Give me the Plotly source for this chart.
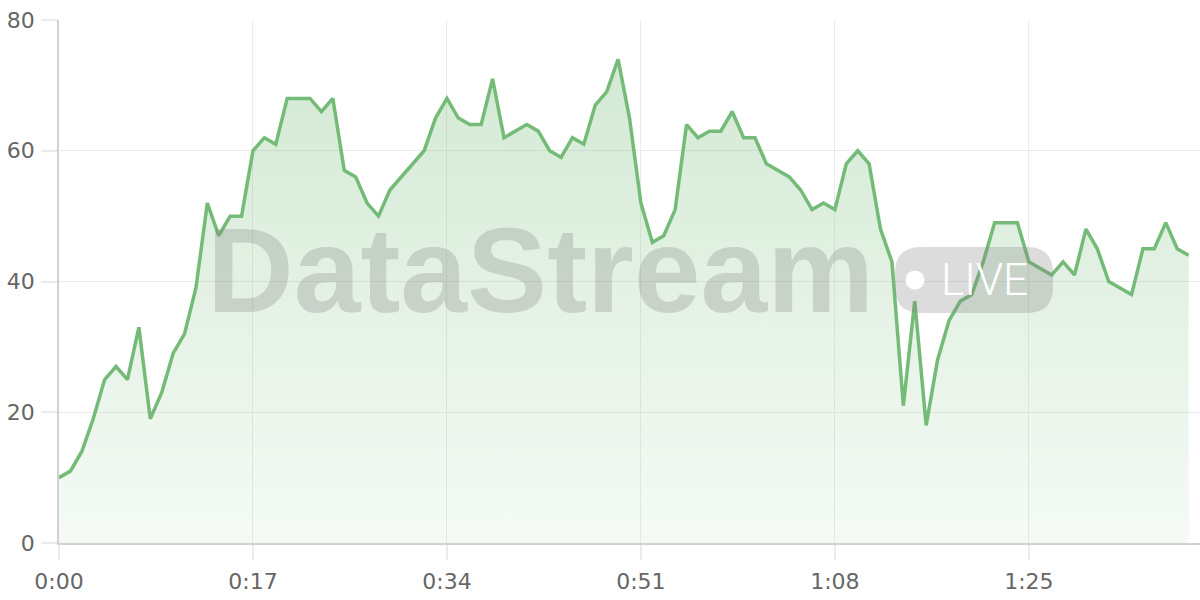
import plotly.graph_objects as go

# one sample per second
seconds = list(range(100))
values = [
    10, 11, 14, 19, 25, 27, 25, 33, 19, 23,
    29, 32, 39, 52, 47, 50, 50, 60, 62, 61,
    68, 68, 68, 66, 68, 57, 56, 52, 50, 54,
    56, 58, 60, 65, 68, 65, 64, 64, 71, 62,
    63, 64, 63, 60, 59, 62, 61, 67, 69, 74,
    65, 52, 46, 47, 51, 64, 62, 63, 63, 66,
    62, 62, 58, 57, 56, 54, 51, 52, 51, 58,
    60, 58, 48, 43, 21, 37, 18, 28, 34, 37,
    38, 43, 49, 49, 49, 43, 42, 41, 43, 41,
    48, 45, 40, 39, 38, 45, 45, 49, 45, 44,
]
x_tickvals = [0, 17, 34, 51, 68, 85]
x_ticktext = ["0:00", "0:17", "0:34", "0:51", "1:08", "1:25"]
y_tickvals = [0, 20, 40, 60, 80]

W, H = 1200, 600
M = dict(l=59, r=0, t=20, b=57)
GREEN = "rgb(117,187,120)"
GRID = "#ebebeb"
AXIS = "#d2d2d2"
WM = "rgba(128,128,128,0.28)"


def px(x, y):
    """pixel position -> paper coords"""
    pw = W - M["l"] - M["r"]
    ph = H - M["t"] - M["b"]
    return (x - M["l"]) / pw, (H - M["b"] - y) / ph


def rounded_rect(x0, y0, x1, y1, r):
    def p(x, y):
        a, b = px(x, y)
        return f"{a:.5f},{b:.5f}"
    return (
        f"M {p(x0 + r, y0)} L {p(x1 - r, y0)} Q {p(x1, y0)} {p(x1, y0 + r)} "
        f"L {p(x1, y1 - r)} Q {p(x1, y1)} {p(x1 - r, y1)} "
        f"L {p(x0 + r, y1)} Q {p(x0, y1)} {p(x0, y1 - r)} "
        f"L {p(x0, y0 + r)} Q {p(x0, y0)} {p(x0 + r, y0)} Z"
    )


fig = go.Figure()
fig.add_trace(go.Scatter(
    x=seconds, y=values, mode="lines",
    line=dict(color=GREEN, width=3.5),
    fill="tozeroy",
    fillgradient=dict(
        type="vertical", start=0, stop=80,
        colorscale=[[0, "rgba(117,187,120,0.07)"], [1, "rgba(117,187,120,0.34)"]],
    ),
    hoverinfo="skip",
))

# watermark
wx, wy = px(540, 270)
fig.add_annotation(
    text="DataStream", x=wx, y=wy, xref="paper", yref="paper",
    xanchor="center", yanchor="middle", showarrow=False,
    font=dict(family="Liberation Sans", size=120, color=WM, weight="bold"),
)
fig.add_shape(
    type="path", xref="paper", yref="paper", layer="above",
    path=rounded_rect(895, 247, 1053, 313, 26),
    fillcolor=WM, line=dict(width=0),
)
cx, cy = px(915, 280)
fig.add_shape(
    type="circle", xref="paper", yref="paper", layer="above",
    xsizemode="pixel", ysizemode="pixel", xanchor=cx, yanchor=cy,
    x0=-9.5, x1=9.5, y0=-9.5, y1=9.5,
    fillcolor="white", line=dict(width=0),
)
lx, ly = px(984, 280)
fig.add_annotation(
    text="LIVE", x=lx, y=ly, xref="paper", yref="paper",
    xanchor="center", yanchor="middle", showarrow=False,
    font=dict(family="Roboto", size=44, color="white", weight=300),
)

fig.update_layout(
    width=W, height=H, margin=M,
    paper_bgcolor="white", plot_bgcolor="white",
    showlegend=False,
    font=dict(family="DejaVu Sans", size=22, color="#666"),
    xaxis=dict(
        range=[0, 100], tickvals=x_tickvals, ticktext=x_ticktext,
        showgrid=True, gridcolor=GRID, zeroline=False,
        showline=True, linecolor=AXIS, linewidth=1.5,
        ticks="outside", ticklen=15, tickcolor=GRID, tickwidth=1.5,
        ticklabelstandoff=3,
    ),
    yaxis=dict(
        range=[0, 80], tickvals=y_tickvals,
        showgrid=True, gridcolor=GRID, zeroline=False,
        showline=True, linecolor=AXIS, linewidth=1.5,
        ticks="outside", ticklen=16, tickcolor=GRID, tickwidth=1.5,
        ticklabelstandoff=2,
    ),
)

fig.write_html(
    "out.html",
    config={"displayModeBar": False},
    post_script="document.body.style.margin='0';",
)
